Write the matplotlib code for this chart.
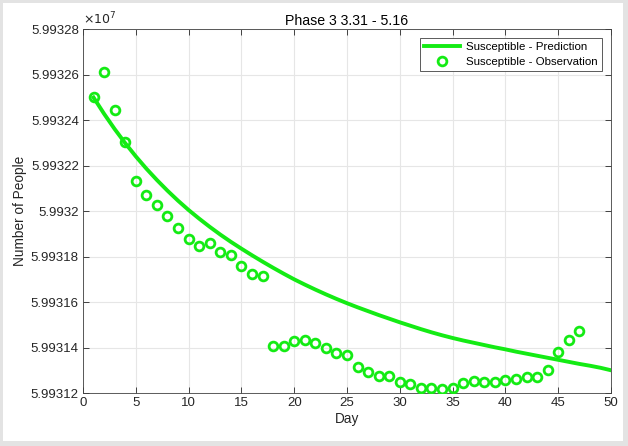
import numpy as np
import matplotlib.pyplot as plt
from matplotlib.patches import Rectangle
from matplotlib.ticker import FuncFormatter

obs_day = np.arange(1, 48)
obs_val = 59931200 + np.array([
    1303, 1410, 1244, 1105, 932, 870, 826, 778, 727, 676,
    648, 658, 621, 607, 558, 523, 516, 207, 207, 230,
    233, 221, 199, 177, 167, 114, 92, 75, 75, 48,
    40, 21, 21, 16, 21, 43, 53, 47, 47, 57,
    62, 69, 72, 101, 182, 233, 273])

# model prediction curve, one value per day
pred_day = np.arange(1, 51)
pred_val = 59931200 + np.array([
    1300, 1228, 1161, 1099, 1041, 987, 937, 890, 846, 805,
    767, 731, 697, 665, 635, 606, 578, 551, 525, 500,
    477, 455, 434, 414, 395, 377, 360, 343, 327, 311,
    296, 281, 267, 254, 242, 231, 221, 211, 201, 192,
    182, 173, 164, 155, 146, 137, 128, 120, 111, 100])

title = 'Phase 3 3.31 - 5.16'
green = '#14eb14'
txt = '#262626'

plt.rcParams['font.family'] = ['Liberation Sans', 'DejaVu Sans']

fig = plt.figure(figsize=(6.28, 4.46), dpi=100, facecolor='#e3e3e3')
# white panel inside the gray frame
fig.patches.append(Rectangle((3 / 628, 5 / 446), 620 / 628, 438 / 446,
                             transform=fig.transFigure, facecolor='white',
                             edgecolor='none', zorder=-10))

ax = fig.add_axes([83 / 628, 1 - 393 / 446, 528 / 628, 363.7 / 446])
ax.set_zorder(5)
ax.plot(pred_day, pred_val, '-', color=green, lw=2.8,
        label='Susceptible - Prediction', zorder=3)
ax.plot(obs_day, obs_val, 'o', mfc='none', mec=green, ms=6.3, mew=2.0,
        label='Susceptible - Observation', zorder=4)

ax.set_xlim(0, 50)
ax.set_ylim(59931200, 59932800)
ax.set_xticks(np.arange(0, 51, 5))
ax.set_yticks(np.arange(59931200, 59932801, 200))
ax.yaxis.set_major_formatter(FuncFormatter(lambda v, p: f'{v / 1e7:g}'))

ax.grid(True, color='#e6e6e6', lw=0.8)
ax.set_axisbelow(True)
ax.tick_params(direction='in', top=True, right=True, length=4, width=0.6,
               color=txt, labelcolor=txt, labelsize=9.5, pad=3)
for s in ax.spines.values():
    s.set_color('#404040')
    s.set_linewidth(0.6)

ax.set_title(title, fontsize=10.2, color='black', pad=3)
ax.set_xlabel('Day', fontsize=9.8, color=txt, labelpad=2)
ax.set_ylabel('Number of People', fontsize=9.8, color=txt, labelpad=3)
ax.text(0.0, 1.006, r'$\times10^7$', transform=ax.transAxes, fontsize=9,
        color=txt, ha='left', va='bottom')

leg = ax.legend(loc='upper right', fontsize=8.25, handlelength=3.2,
                handletextpad=0.5, fancybox=False, framealpha=1,
                edgecolor='#404040', borderaxespad=0.8, borderpad=0.35,
                labelspacing=0.4)
leg.get_frame().set_linewidth(0.6)

fig.savefig('out.png', dpi=100, facecolor=fig.get_facecolor())
